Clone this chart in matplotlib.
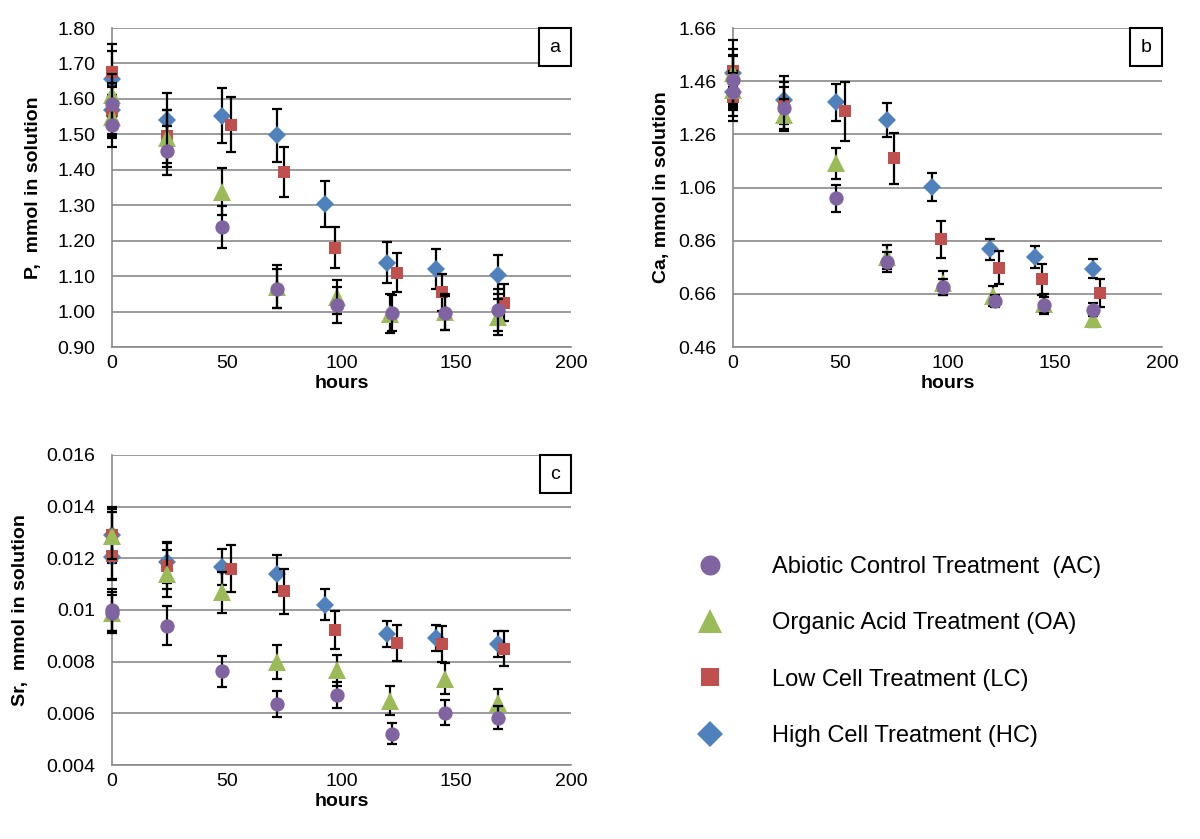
import numpy as np
import matplotlib
matplotlib.use('Agg')
import matplotlib.pyplot as plt
from matplotlib.offsetbox import AnchoredText
from matplotlib.ticker import FuncFormatter

plt.rcParams['font.family'] = ['Liberation Sans', 'DejaVu Sans']

# sampling times (hours) for each treatment, two samples at t = 0
t_ac = [0, 0, 24, 48, 72, 98, 122, 145, 168]
t_oa = [0, 0, 24, 48, 72, 98, 121, 145, 168]
t_lc = [0, 0, 24, 52, 75, 97, 124, 144, 171]
t_hc = [0, 0, 24, 48, 72, 93, 120, 141, 168]

# panel a: P
p_ac = [1.585, 1.525, 1.454, 1.239, 1.065, 1.018, 0.996, 0.996, 1.004]
p_ac_err = [0.06, 0.06, 0.07, 0.06, 0.055, 0.05, 0.05, 0.047, 0.06]
p_oa = [1.61, 1.55, 1.489, 1.338, 1.07, 1.041, 0.994, 0.999, 0.985]
p_oa_err = [0.06, 0.06, 0.08, 0.066, 0.06, 0.047, 0.055, 0.05, 0.05]
p_lc = [1.675, 1.565, 1.494, 1.527, 1.393, 1.18, 1.11, 1.054, 1.025]
p_lc_err = [0.08, 0.07, 0.075, 0.077, 0.07, 0.058, 0.056, 0.053, 0.052]
p_hc = [1.655, 1.57, 1.541, 1.553, 1.497, 1.303, 1.138, 1.121, 1.104]
p_hc_err = [0.08, 0.07, 0.075, 0.077, 0.075, 0.065, 0.057, 0.056, 0.055]

# panel b: Ca
ca_ac = [1.465, 1.42, 1.36, 1.019, 0.78, 0.684, 0.633, 0.617, 0.601]
ca_ac_err = [0.09, 0.07, 0.08, 0.052, 0.037, 0.03, 0.022, 0.03, 0.025]
ca_oa = [1.49, 1.428, 1.333, 1.151, 0.799, 0.701, 0.651, 0.621, 0.567]
ca_oa_err = [0.09, 0.07, 0.06, 0.058, 0.045, 0.045, 0.038, 0.038, 0.03]
ca_lc = [1.497, 1.40, 1.367, 1.346, 1.17, 0.865, 0.759, 0.714, 0.664]
ca_lc_err = [0.06, 0.09, 0.09, 0.11, 0.095, 0.07, 0.062, 0.06, 0.053]
ca_hc = [1.49, 1.42, 1.39, 1.38, 1.314, 1.063, 0.827, 0.799, 0.755]
ca_hc_err = [0.125, 0.09, 0.09, 0.07, 0.065, 0.052, 0.04, 0.04, 0.036]

# panel c: Sr
sr_ac = [0.0100, 0.0099, 0.00939, 0.00763, 0.00636, 0.00671, 0.00521, 0.00603, 0.00583]
sr_ac_err = [0.0008, 0.0008, 0.00075, 0.0006, 0.0005, 0.0005, 0.0004, 0.0005, 0.00045]
sr_oa = [0.01288, 0.00988, 0.01141, 0.01069, 0.00798, 0.00767, 0.00649, 0.00733, 0.00639]
sr_oa_err = [0.0009, 0.0007, 0.0009, 0.0008, 0.00065, 0.0006, 0.00055, 0.0006, 0.00055]
sr_lc = [0.0129, 0.0121, 0.01171, 0.0116, 0.01072, 0.00923, 0.00873, 0.00867, 0.0085]
sr_lc_err = [0.001, 0.0009, 0.0009, 0.0009, 0.00088, 0.00073, 0.0007, 0.0007, 0.00068]
sr_hc = [0.0129, 0.01206, 0.01184, 0.01167, 0.01141, 0.0102, 0.00906, 0.00893, 0.00867]
sr_hc_err = [0.0011, 0.0009, 0.0008, 0.0007, 0.0007, 0.0006, 0.0005, 0.0005, 0.0005]

labels = ['Abiotic Control Treatment  (AC)', 'Organic Acid Treatment (OA)',
          'Low Cell Treatment (LC)', 'High Cell Treatment (HC)']
colors = ['#8064A2', '#9BBB59', '#C0504D', '#4F81BD']
markers = ['o', '^', 's', 'D']
msizes = [10.3, 12.5, 9.2, 9.4]
times = [t_ac, t_oa, t_lc, t_hc]

panels = [
    dict(vals=[p_ac, p_oa, p_lc, p_hc], errs=[p_ac_err, p_oa_err, p_lc_err, p_hc_err],
         ylim=(0.90, 1.80), ticks=np.arange(0.90, 1.801, 0.10), fmt='%.2f', lpad=11,
         ylabel='P,  mmol in solution', tag='a', pos=[0.0933, 0.5864, 0.3825, 0.3802]),
    dict(vals=[ca_ac, ca_oa, ca_lc, ca_hc], errs=[ca_ac_err, ca_oa_err, ca_lc_err, ca_hc_err],
         ylim=(0.46, 1.66), ticks=np.arange(0.46, 1.661, 0.20), fmt='%.2f', lpad=6,
         ylabel='Ca, mmol in solution', tag='b', pos=[0.6108, 0.5864, 0.3575, 0.3802]),
    dict(vals=[sr_ac, sr_oa, sr_lc, sr_hc], errs=[sr_ac_err, sr_oa_err, sr_lc_err, sr_hc_err],
         ylim=(0.004, 0.016), ticks=np.arange(0.004, 0.01601, 0.002), fmt='%g', lpad=12.5,
         ylabel='Sr,  mmol in solution', tag='c', pos=[0.0933, 0.0882, 0.3825, 0.3695]),
]

fig = plt.figure(figsize=(12, 8.39), dpi=100)
handles = []

for pn in panels:
    ax = fig.add_axes(pn['pos'])
    # Excel draws the last series first, so HC ends up at the bottom
    for i in [3, 2, 1, 0]:
        ax.errorbar(times[i], pn['vals'][i], yerr=pn['errs'][i], fmt='none', ecolor='black',
                    elinewidth=1.6, capsize=3.3, capthick=1.6, clip_on=False, zorder=3 + (3 - i))
        ln, = ax.plot(times[i], pn['vals'][i], linestyle='none', marker=markers[i],
                      markersize=msizes[i], color=colors[i], markeredgewidth=0,
                      clip_on=False, zorder=3.5 + (3 - i))
        if pn['tag'] == 'a':
            handles.append(ln)

    ax.set_xlim(0, 200)
    ax.set_ylim(*pn['ylim'])
    ax.set_xticks([0, 50, 100, 150, 200])
    ax.set_yticks(pn['ticks'])
    f = pn['fmt']
    ax.yaxis.set_major_formatter(FuncFormatter(lambda v, p, f=f: f % v))
    ax.grid(axis='y', color='#8a8a8a', linewidth=1.2)
    ax.set_axisbelow(True)
    for s in ['top', 'right']:
        ax.spines[s].set_visible(False)
    for s in ['left', 'bottom']:
        ax.spines[s].set_color('#8a8a8a')
        ax.spines[s].set_linewidth(1.2)
    ax.tick_params(length=0, labelsize=14, pad=12)
    ax.tick_params(axis='x', pad=6)
    ax.set_xlabel('hours', fontsize=14, fontweight='bold', labelpad=2)
    ax.set_ylabel(pn['ylabel'], fontsize=14, fontweight='bold', labelpad=pn['lpad'])

    at = AnchoredText(pn['tag'], loc='upper right', borderpad=0, pad=0.55,
                      prop=dict(size=14), frameon=True)
    at.patch.set_boxstyle('square,pad=0')
    at.patch.set_linewidth(1.5)
    at.patch.set_edgecolor('black')
    ax.add_artist(at)

handles = handles[::-1]
fig.legend(handles, labels, loc='center left', bbox_to_anchor=(0.554, 0.2235), frameon=False,
           fontsize=17, markerscale=1.4, labelspacing=1.45, handletextpad=1.63,
           handlelength=2)

fig.savefig('out.png', dpi=100)
